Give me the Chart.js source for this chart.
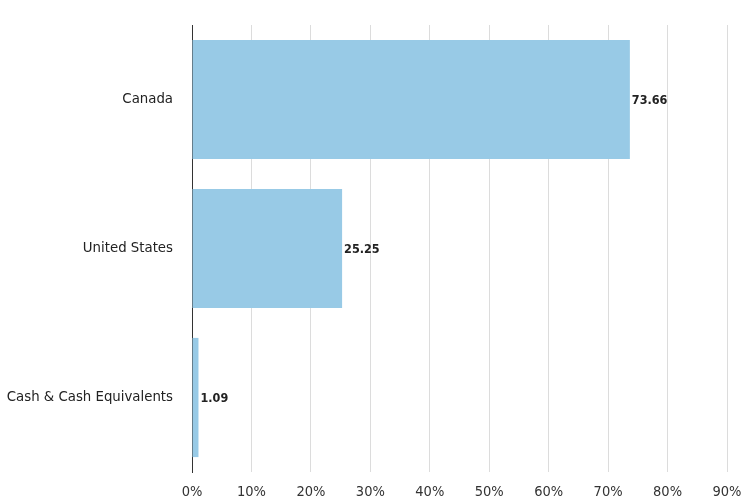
<!DOCTYPE html>
<html>
<head>
<meta charset="utf-8">
<title>Allocation by Country</title>
<script src="https://cdn.jsdelivr.net/npm/chart.js@4"></script>
<style>
  body { margin: 0; background: #fff; }
  #chart { display: block; }
</style>
</head>
<body>
<canvas id="chart" width="741" height="502"></canvas>
<script>
const categories = ["Canada", "United States", "Cash & Cash Equivalents"];
const weights = [73.66, 25.25, 1.09];
const xTicks = [0, 10, 20, 30, 40, 50, 60, 70, 80, 90];

const FONT = "'DejaVu Sans Condensed', 'Liberation Sans Narrow', 'Arial Narrow', sans-serif";

// writes the value just past the end of each bar
const barValues = {
  id: "barValues",
  afterDatasetsDraw(chart) {
    const ctx = chart.ctx;
    const meta = chart.getDatasetMeta(0);
    ctx.save();
    ctx.font = "bold 12.5px " + FONT;
    ctx.fillStyle = "#222";
    ctx.textAlign = "left";
    ctx.textBaseline = "middle";
    meta.data.forEach((bar, i) => {
      ctx.fillText(weights[i].toFixed(2), bar.x + 2, bar.y + 1);
    });
    ctx.restore();
  },
};

new Chart(document.getElementById("chart"), {
  type: "bar",
  data: {
    labels: categories,
    datasets: [
      {
        data: weights,
        backgroundColor: "#98cae6",
        categoryPercentage: 0.8,
        barPercentage: 1.0,
      },
    ],
  },
  options: {
    indexAxis: "y",
    responsive: false,
    animation: false,
    layout: { padding: { top: 25, right: 0, left: 0, bottom: 0 } },
    plugins: {
      legend: { display: false },
      tooltip: { enabled: false },
    },
    scales: {
      x: {
        min: 0,
        max: 90,
        afterBuildTicks(scale) {
          scale.ticks = xTicks.map((v) => ({ value: v }));
        },
        afterFit(scale) {
          scale.height = 30;
          scale.paddingLeft = 0;
          scale.paddingRight = 14;
        },
        grid: { color: "#dcdcdc", lineWidth: 1, drawTicks: false },
        border: { display: false },
        ticks: {
          color: "#333",
          font: { family: FONT, size: 14.5 },
          padding: 12,
          callback: (v) => v + "%",
        },
      },
      y: {
        afterFit(scale) {
          scale.width = 192;
          scale.paddingTop = 0;
          scale.paddingBottom = 0;
        },
        grid: { display: false, drawTicks: false },
        border: { display: true, color: "#333", width: 1 },
        ticks: {
          color: "#222",
          font: { family: FONT, size: 14.8 },
          padding: 19,
        },
      },
    },
  },
  plugins: [barValues],
});
</script>
</body>
</html>
